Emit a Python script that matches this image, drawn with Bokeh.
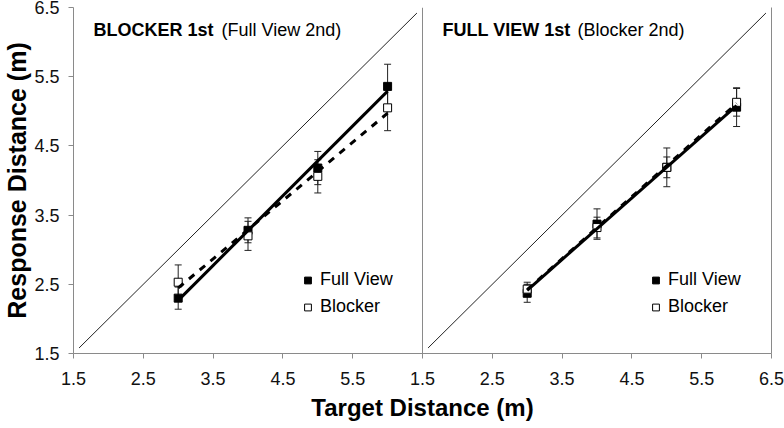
import numpy as np
from bokeh.plotting import figure
from bokeh.models import (Range1d, FixedTicker, LinearAxis, Span, Label,
                          Legend, LegendItem)
from bokeh.embed import file_html
from bokeh.resources import INLINE

# ---------------- data ----------------
target = [3, 4, 5, 6]

# Panel A: BLOCKER 1st (Full View 2nd)
a_full = [2.30, 3.28, 4.18, 5.36]
a_full_err = [0.16, 0.18, 0.24, 0.32]
a_block = [2.53, 3.20, 4.06, 5.05]
a_block_err = [0.25, 0.21, 0.24, 0.33]

# Panel B: FULL VIEW 1st (Blocker 2nd)
b_full = [2.37, 3.37, 4.19, 5.06]
b_full_err = [0.13, 0.22, 0.15, 0.28]
b_block = [2.43, 3.32, 4.19, 5.13]
b_block_err = [0.10, 0.15, 0.28, 0.20]

identity = [1.58, 6.42]

x_ticks_a = [1.5, 2.5, 3.5, 4.5, 5.5]
x_ticks_b = [1.5, 2.5, 3.5, 4.5, 5.5, 6.5]
y_ticks = [1.5, 2.5, 3.5, 4.5, 5.5, 6.5]

series_names = ["Full View", "Blocker"]
title_a = ["BLOCKER 1st", "(Full View 2nd)"]
title_b = ["FULL VIEW 1st", "(Blocker 2nd)"]

# ---------------- figure ----------------
FONT = "Liberation Sans"
AXIS_GRAY = "#8a8a8a"

xr_a = Range1d(1.5, 11.5)       # panel A occupies left half
xr_b = Range1d(-3.5, 6.5)       # panel B occupies right half
offset_b = xr_a.end - xr_b.end  # B coordinate -> primary coordinate

p = figure(width=784, height=428, x_range=xr_a, y_range=Range1d(1.5, 6.5),
           output_backend="svg", toolbar_location=None,
           min_border_left=73, min_border_right=13, min_border_top=7,
           min_border_bottom=75, outline_line_color=None,
           background_fill_color="white", border_fill_color="white")
p.extra_x_ranges = {"b": xr_b}
p.xgrid.visible = False
p.ygrid.visible = False

# x axis (shared line, two sets of labels)
ticks_all = list(x_ticks_a) + [t + offset_b for t in x_ticks_b]
overrides = {t: f"{t:.1f}" for t in x_ticks_a}
overrides.update({t + offset_b: f"{t:.1f}" for t in x_ticks_b})
xa = p.xaxis[0]
xa.ticker = FixedTicker(ticks=ticks_all)
xa.major_label_overrides = overrides
xa.axis_label = "Target Distance (m)"

ya = p.yaxis[0]
ya.ticker = FixedTicker(ticks=y_ticks)
ya.formatter.precision = 1
ya.axis_label = "Response Distance (m)"

for ax in (xa, ya):
    ax.axis_line_color = AXIS_GRAY
    ax.major_tick_line_color = AXIS_GRAY
    ax.minor_tick_line_color = None
    ax.major_tick_out = 5
    ax.major_tick_in = 0
    ax.major_label_text_font = FONT
    ax.major_label_text_font_size = "18px"
    ax.major_label_text_color = "#111111"
    ax.axis_label_text_font = FONT
    ax.axis_label_text_font_style = "bold"
    ax.axis_label_text_color = "#000000"

xa.major_label_standoff = 13
xa.axis_label_standoff = 6
xa.axis_label_text_font_size = "24px"
ya.major_label_standoff = 9
ya.axis_label_standoff = 0
ya.axis_label_text_font_size = "25px"

# right frame edge
right_axis = LinearAxis(ticker=FixedTicker(ticks=[]), axis_line_color=AXIS_GRAY,
                        major_tick_out=0, major_tick_in=0,
                        major_label_text_font_size="0px", major_label_standoff=0)
p.add_layout(right_axis, "right")

# divider between panels (right edge of panel A)
p.add_layout(Span(location=xr_a.end - offset_b, dimension="height",
                  line_color=AXIS_GRAY, line_width=1))


def panel(rng, full, full_err, block, block_err, title, legend_loc, title_x):
    kw = {} if rng is None else {"x_range_name": rng}
    # identity line
    p.line(identity, identity, line_color="#222222", line_width=1, **kw)
    # error bars
    for ys, es in ((full, full_err), (block, block_err)):
        lo = [y - e for y, e in zip(ys, es)]
        hi = [y + e for y, e in zip(ys, es)]
        p.segment(x0=target, y0=lo, x1=target, y1=hi,
                  line_color="#222222", line_width=1, **kw)
        p.scatter(x=target + target, y=lo + hi, marker="dash", size=7,
                  line_color="#222222", line_width=1, **kw)
    r_full = p.scatter(target, full, marker="square", size=8,
                       fill_color="black", line_color="black", **kw)
    r_block = p.scatter(target, block, marker="square", size=8,
                        fill_color="white", line_color="black",
                        line_width=1, **kw)
    # linear trendlines
    xs = [min(target), max(target)]
    cf = np.polyfit(target, full, 1)
    cb = np.polyfit(target, block, 1)
    p.line(xs, list(np.polyval(cf, xs)), line_color="black", line_width=3, **kw)
    p.line(xs, list(np.polyval(cb, xs)), line_color="black", line_width=3,
           line_dash="7 7", **kw)
    # legend
    leg = Legend(items=[LegendItem(label=series_names[0], renderers=[r_full]),
                        LegendItem(label=series_names[1], renderers=[r_block])],
                 location=legend_loc, padding=0, margin=0, spacing=6,
                 glyph_width=17, glyph_height=18, label_standoff=4,
                 label_text_font=FONT, label_text_font_size="18px",
                 label_text_color="#000000",
                 border_line_alpha=0, background_fill_alpha=0)
    p.add_layout(leg)
    # panel title (bold part + regular part)
    p.add_layout(Label(x=title_x[0], y=6.17, text=title[0], text_font=FONT,
                       text_font_size="18px", text_font_style="bold",
                       text_baseline="alphabetic", text_color="black", **kw))
    p.add_layout(Label(x=title_x[1], y=6.17, text=title[1], text_font=FONT,
                       text_font_size="18px", text_baseline="alphabetic",
                       text_color="black", **kw))


panel(None, a_full, a_full_err, a_block, a_block_err, title_a,
      (226, 36), (1.787, 3.62))
panel("b", b_full, b_full_err, b_block, b_block_err, title_b,
      (574, 36), (1.787, 3.72))

open("out.html", "w").write(file_html(p, INLINE))
